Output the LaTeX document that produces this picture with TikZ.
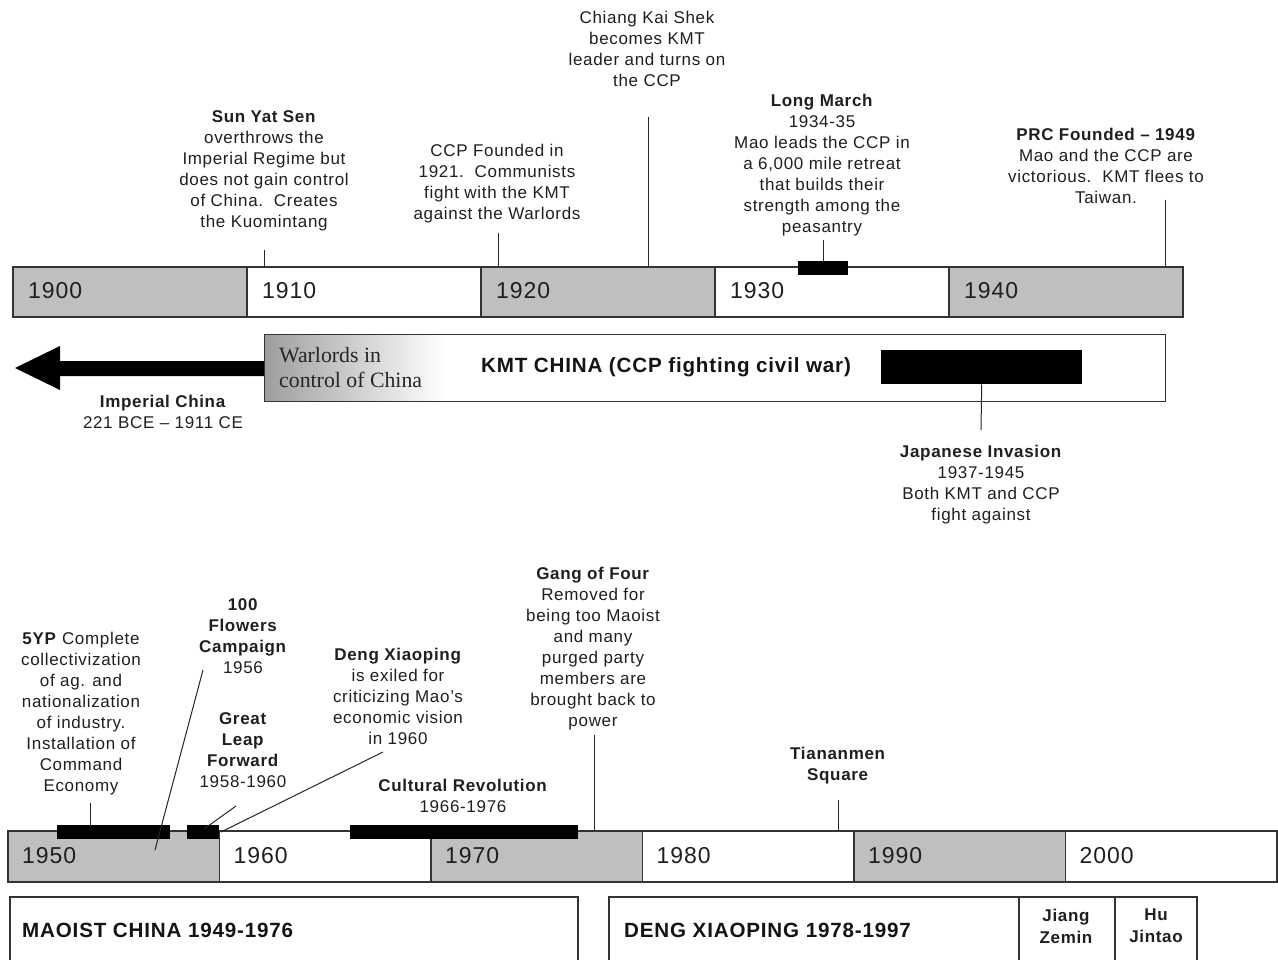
\documentclass[tikz,border=0pt]{standalone}
\usepackage{fontspec}
\setmainfont{Liberation Sans}[LetterSpace=4]
\newfontfamily\warlordfont{Liberation Serif}
\begin{document}
\begin{tikzpicture}[x=1pt,y=-1pt,
  ev/.style={align=center, inner sep=0pt, anchor=north, text=black!88,
    font=\fontsize{17}{21}\selectfont},
  yr/.style={anchor=west, inner sep=0pt, text=black!88, font=\fontsize{23}{26}\selectfont},
  big/.style={inner sep=0pt, text=black!92, font=\fontsize{20.6}{24}\selectfont\bfseries},
  seg/.style={draw=black!80, line width=1.2pt},
  grayseg/.style={seg, fill=black!25},
  whiteseg/.style={seg, fill=white},
  blk/.style={fill=black},
  ln/.style={draw=black!85, line width=1pt}]
\useasboundingbox (0,0) rectangle (1278,960);
\clip (0,0) rectangle (1278,960);
\fill[white] (0,0) rectangle (1278,960);

% ---------- top timeline ----------
\foreach \i/\y in {0/1900,1/1910,2/1920,3/1930,4/1940}{
  \pgfmathsetmacro{\xa}{13+234*\i}
  \pgfmathsetmacro{\xb}{13+234*(\i+1)}
  \pgfmathparse{mod(\i,2)==0 ? "grayseg" : "whiteseg"}
  \edef\st{\pgfmathresult}
  \path[style=\st] (\xa,267) rectangle (\xb,317);
  \node[yr] (y\y) at (\xa+15,291) {\y};
}

% events above
\node[ev] (sys) at (264,110.5) {\textbf{Sun Yat Sen}\\overthrows the\\Imperial Regime but\\does not gain control\\of China.\ \ Creates\\the Kuomintang};
\coordinate (sysA) at (264,250); \coordinate (sysB) at (264,267);
\draw[ln] (sysA) -- (sysB);

\node[ev] (ccp) at (497,143.5) {CCP Founded in\\1921.\ \ Communists\\fight with the KMT\\against the Warlords};
\coordinate (ccpA) at (498,233); \coordinate (ccpB) at (498,267);
\draw[ln] (ccpA) -- (ccpB);

\node[ev] (cks) at (647,10.5) {Chiang Kai Shek\\becomes KMT\\leader and turns on\\the CCP};
\coordinate (cksA) at (648,117); \coordinate (cksB) at (648,267);
\draw[ln] (cksA) -- (cksB);

\node[ev] (lm) at (822,93.5) {\textbf{Long March}\\1934-35\\Mao leads the CCP in\\a 6,000 mile retreat\\that builds their\\strength among the\\peasantry};
\node[blk, inner sep=0pt, minimum width=50pt, minimum height=14pt] (lmbar) at (823,268) {};
\coordinate (lmA) at (823,240);
\draw[ln] (lmA) -- (lmbar.north);

\node[ev] (prc) at (1106,127.5) {\textbf{PRC Founded -- 1949}\\Mao and the CCP are\\victorious.\ \ KMT flees to\\Taiwan.};
\coordinate (prcA) at (1165,200); \coordinate (prcB) at (1165,267);
\draw[ln] (prcA) -- (prcB);

% ---------- arrow and KMT band ----------
\fill[black] (15,368) -- (60,346) -- (60,361) -- (264,361) -- (264,376) -- (60,376) -- (60,390) -- cycle;
\shade[left color=black!38, right color=white] (264,334) rectangle (445,401);
\node[draw=black!80, line width=1.2pt, minimum width=901pt, minimum height=67pt, inner sep=0pt, anchor=north west] (kmt) at (264,334) {};
\node[inner sep=0pt, anchor=north west, align=left, text=black!85,
  font=\warlordfont\fontsize{21.8}{25}\selectfont] (warl) at (279,347) {Warlords in\\control of China};
\node[big] (kmtt) at (666,367) {KMT CHINA (CCP fighting civil war)};
\node[blk, inner sep=0pt, minimum width=201pt, minimum height=34pt, anchor=north west] (jbar) at (881,350) {};

\node[ev] (imp) at (163,394.5) {\textbf{Imperial China}\\221 BCE -- 1911 CE};

\node[ev] (jap) at (981,444.5) {\textbf{Japanese Invasion}\\1937-1945\\Both KMT and CCP\\fight against};
\coordinate (japA) at (981,430);
\draw[ln] (jbar.south) -- (japA);

% ---------- bottom timeline ----------
\foreach \i/\y in {0/1950,1/1960,2/1970,3/1980,4/1990,5/2000}{
  \pgfmathsetmacro{\xa}{8+211.5*\i}
  \pgfmathsetmacro{\xb}{8+211.5*(\i+1)}
  \pgfmathparse{mod(\i,2)==0 ? "grayseg" : "whiteseg"}
  \edef\st{\pgfmathresult}
  \path[style=\st] (\xa,831) rectangle (\xb,882);
  \node[yr] (y\y) at (\xa+14,856) {\y};
}

\node[blk, inner sep=0pt, minimum width=113pt, minimum height=14pt, anchor=north west] (fypbar) at (57,825) {};
\node[blk, inner sep=0pt, minimum width=32pt, minimum height=14pt, anchor=north west] (glfbar) at (187,825) {};
\node[blk, inner sep=0pt, minimum width=228pt, minimum height=14pt, anchor=north west] (crbar) at (350,825) {};

\node[ev] (fyp) at (81,631.5) {\textbf{5YP} Complete\\collectivization\\of ag. and\\nationalization\\of industry.\\Installation of\\Command\\Economy};
\coordinate (fypA) at (90,803); \coordinate (fypB) at (90,825);
\draw[ln] (fypA) -- (fypB);

\node[ev] (hf) at (243,598.5) {\textbf{100}\\\textbf{Flowers}\\\textbf{Campaign}\\1956};
\coordinate (hfA) at (203,670); \coordinate (hfB) at (155,850);
\draw[ln] (hfA) -- (hfB);

\node[ev] (glf) at (243,712.5) {\textbf{Great}\\\textbf{Leap}\\\textbf{Forward}\\1958-1960};
\coordinate (glfA) at (236,806); \coordinate (glfB) at (204,829);
\draw[ln] (glfA) -- (glfB);

\node[ev] (dx) at (398,647.5) {\textbf{Deng Xiaoping}\\is exiled for\\criticizing Mao's\\economic vision\\in 1960};
\coordinate (dxA) at (383,752); \coordinate (dxB) at (221,832);
\draw[ln] (dxA) -- (dxB);

\node[ev] (cr) at (463,778.5) {\textbf{Cultural Revolution}\\1966-1976};

\node[ev] (g4) at (593,566.5) {\textbf{Gang of Four}\\Removed for\\being too Maoist\\and many\\purged party\\members are\\brought back to\\power};
\coordinate (g4A) at (594,735); \coordinate (g4B) at (594,831);
\draw[ln] (g4A) -- (g4B);

\node[ev] (ts) at (838,746.5) {\textbf{Tiananmen}\\\textbf{Square}};
\coordinate (tsA) at (838,800); \coordinate (tsB) at (838,831);
\draw[ln] (tsA) -- (tsB);

% ---------- bottom boxes ----------
\draw[seg, fill=white] (10,897) rectangle (578,980);
\node[big, anchor=west] (mao) at (22,930) {MAOIST CHINA 1949-1976};
\draw[seg, fill=white] (609,897) rectangle (1197,980);
\draw[seg] (1019,897) -- (1019,980);
\draw[seg] (1115,897) -- (1115,980);
\node[big, anchor=west] (deng) at (624,930) {DENG XIAOPING 1978-1997};
\node[ev, font=\fontsize{17}{22}\selectfont\bfseries] (jz) at (1066,909) {Jiang\\Zemin};
\node[ev, font=\fontsize{17}{22}\selectfont\bfseries] (hj) at (1156,909) {Hu\\Jintao};
\end{tikzpicture}
\end{document}
